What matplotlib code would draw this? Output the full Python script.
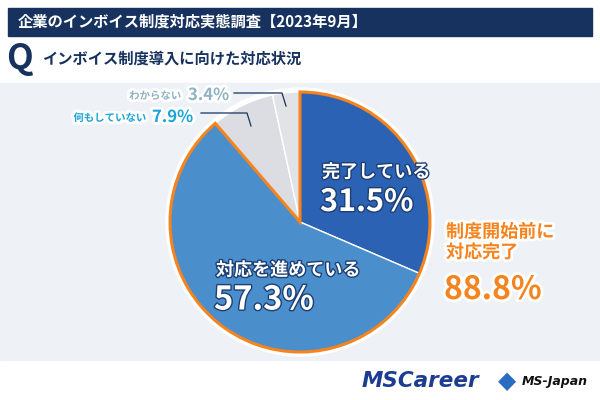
import matplotlib.pyplot as plt
import matplotlib.patheffects as pe
from matplotlib.patches import Rectangle, Circle, Wedge

plt.rcParams['font.family'] = ['Noto Sans CJK JP', 'DejaVu Sans']

# data
labels = ["完了している", "対応を進めている", "何もしていない", "わからない"]
values = [31.5, 57.3, 7.9, 3.4]
colors = ["#2b62b3", "#4a8fcb", "#dcdde2", "#e2e3e7"]

title = "企業のインボイス制度対応実態調査【2023年9月】"
question = "インボイス制度導入に向けた対応状況"
group_label = "制度開始前に\n対応完了"
group_value = values[0] + values[1]

navy = "#17325f"
orange = "#f5841f"

fig = plt.figure(figsize=(6, 4), dpi=100)
ax = fig.add_axes([0, 0, 1, 1])

# background pieces (pixel coords, y up)
ax.add_patch(Rectangle((0, 0), 600, 400, color="white", zorder=0))
ax.add_patch(Rectangle((0, 40), 600, 277, color="#eef1f5", zorder=0))
ax.add_patch(Rectangle((8, 364), 584, 28, color=navy, zorder=1))
ax.text(18, 378, title, color="white", fontsize=11, fontweight="bold", va="center", zorder=2)
ax.text(6, 342, "Q", color=navy, fontsize=25, fontweight="bold", va="center", zorder=2)
ax.text(42, 341, question, color=navy, fontsize=11, fontweight="bold", va="center", zorder=2)

# pie
cx, cy, r = 300, 178, 130
ax.add_patch(Circle((cx, cy), r + 4, color="white", zorder=1))
wedges, _ = ax.pie(values, colors=colors, startangle=90, counterclock=False,
                   center=(cx, cy), radius=r, frame=True,
                   wedgeprops=dict(edgecolor="white", linewidth=1))
for w in wedges:
    w.set_zorder(2)

# orange outline round the completed group
theta_end = 90
theta_start = 90 - 360 * group_value / sum(values)
ax.add_patch(Wedge((cx, cy), r, theta_start, theta_end, fill=False,
                   edgecolor=orange, linewidth=2.2, zorder=3))

ax.set_xlim(0, 600)
ax.set_ylim(0, 400)
ax.set_aspect("auto")
ax.axis("off")

shadow = [pe.withStroke(linewidth=2, foreground="#1d3f75")]
ax.text(322, 228, labels[0], color="white", fontsize=13, fontweight="bold",
        va="center", zorder=4, path_effects=shadow)
ax.text(320, 198, f"{values[0]}%", color="white", fontsize=22, fontweight="bold",
        va="center", zorder=4, path_effects=shadow)
ax.text(216, 130, labels[1], color="white", fontsize=13, fontweight="bold",
        va="center", zorder=4, path_effects=shadow)
ax.text(214, 100, f"{values[1]}%", color="white", fontsize=23.5, fontweight="bold",
        va="center", zorder=4, path_effects=shadow)

glow = [pe.withStroke(linewidth=4, foreground="white")]
ax.text(446, 158, group_label, color=orange, fontsize=13, fontweight="bold",
        va="center", linespacing=1.1, zorder=4, path_effects=glow)
ax.text(444, 110, f"{group_value:.1f}%", color=orange, fontsize=23, fontweight="bold",
        va="center", zorder=4, path_effects=glow)

# small slice labels with leader lines
ax.text(181, 304, labels[3], color="#8fb3c2", fontsize=7.5, fontweight="bold",
        ha="right", va="center", zorder=4, path_effects=glow)
ax.text(188, 305, f"{values[3]}%", color="#8fb3c2", fontsize=12, fontweight="bold",
        va="center", zorder=4, path_effects=glow)
ax.plot([234, 282, 286], [307, 307, 294], color=navy, lw=0.9, zorder=4)

ax.text(146, 282, labels[2], color="#1aa3d6", fontsize=7.5, fontweight="bold",
        ha="right", va="center", zorder=4, path_effects=glow)
ax.text(152, 283, f"{values[2]}%", color="#1aa3d6", fontsize=12, fontweight="bold",
        va="center", zorder=4, path_effects=glow)
ax.plot([201, 247, 251], [287, 287, 274], color=navy, lw=0.9, zorder=4)

# footer logos as text
ax.text(362, 19, "MSCareer", color="#1c3c92", fontsize=15.5, fontweight="heavy",
        style="italic", family="DejaVu Sans", va="center", zorder=4)
ax.text(507, 19, "◆", color="#2a6cc0", fontsize=17, ha="center", va="center",
        family="DejaVu Sans", zorder=4)
ax.text(522, 19, "MS-Japan", color="#111111", fontsize=9, fontweight="bold",
        style="italic", family="DejaVu Sans", va="center", zorder=4)

fig.savefig("out.png", dpi=100)
